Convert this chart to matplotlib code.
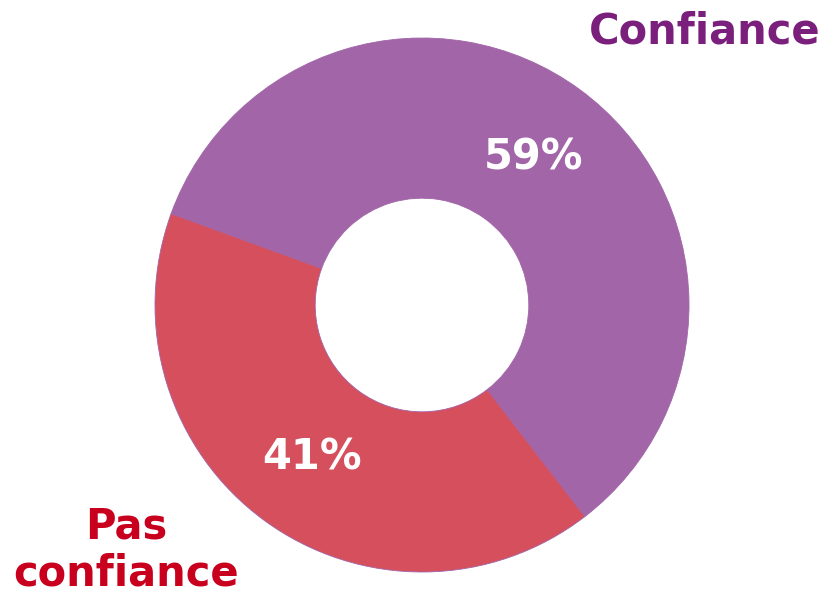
import matplotlib
matplotlib.use("Agg")
import matplotlib.pyplot as plt

## donut: share of trust
labels = ["Confiance", "Pas\nconfiance"]
values = [59, 41]
pct_labels = ["59%", "41%"]
colors = ["#A165A8", "#D64F5C"]
label_colors = ["#7B1F7D", "#C8001E"]

W, H = 825, 593
fig = plt.figure(figsize=(W / 100., H / 100.), dpi=100)
ax = fig.add_axes([0, 0, 1, 1])

cx, cy = 422, H - 305
R = 267
ax.pie(values, colors=colors, startangle=160, counterclock=False,
       center=(cx, cy), radius=R,
       wedgeprops=dict(width=R * 0.6, linewidth=0.6, edgecolor=colors[0]))
ax.set_xlim(0, W)
ax.set_ylim(0, H)
ax.set_aspect("equal")
ax.axis("off")

font = "DejaVu Sans"
# percentages inside the ring
ax.text(534, H - 157, pct_labels[0], color="white", fontsize=30,
        fontweight="bold", family=font, ha="center", va="center")
ax.text(312, H - 458, pct_labels[1], color="white", fontsize=30,
        fontweight="bold", family=font, ha="center", va="center")

# category labels outside
ax.text(705, H - 32, labels[0], color=label_colors[0], fontsize=30,
        fontweight="bold", family=font, ha="center", va="center")
ax.text(126, H - 550, labels[1], color=label_colors[1], fontsize=30,
        fontweight="bold", family=font, ha="center", va="center",
        linespacing=1.15)

fig.savefig("out.png", dpi=100)
